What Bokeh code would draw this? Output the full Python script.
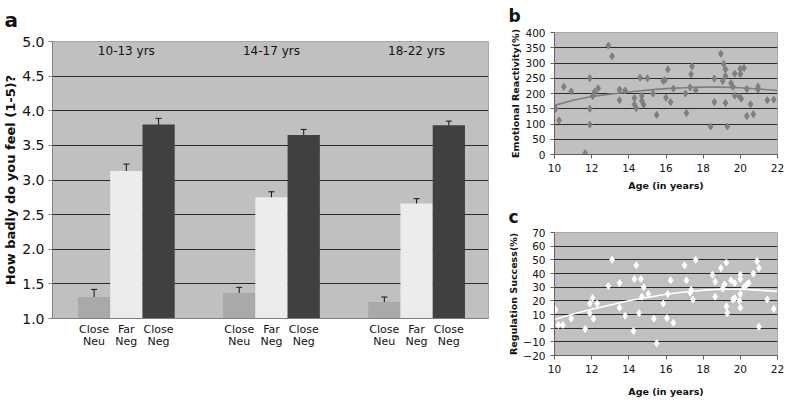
from bokeh.plotting import figure
from bokeh.models import (ColumnDataSource, Range1d, FixedTicker, PrintfTickFormatter,
                          Whisker, TeeHead, Title, LinearAxis)
from bokeh.layouts import row, column
from bokeh.core.properties import value
from bokeh.embed import file_html
from bokeh.resources import INLINE

# ---------------- data ----------------
groups = ["10-13 yrs", "14-17 yrs", "18-22 yrs"]
conditions = ["Close Neu", "Far Neg", "Close Neg"]
cond_line1 = ["Close", "Far", "Close"]
cond_line2 = ["Neu", "Neg", "Neg"]
cond_colors = ["#a9a9a9", "#ececec", "#404040"]
means = [[1.31, 3.13, 3.80],
         [1.37, 2.75, 3.65],
         [1.24, 2.66, 3.79]]
err_lo = [[1.23, 3.04, 3.71],
          [1.29, 2.66, 3.57],
          [1.18, 2.61, 3.73]]
err_hi = [[1.42, 3.23, 3.89],
          [1.45, 2.83, 3.73],
          [1.31, 2.73, 3.85]]
y_ticks_a = [1.0, 1.5, 2.0, 2.5, 3.0, 3.5, 4.0, 4.5, 5.0]

ages_b = [10.07, 10.25, 10.5, 10.9, 11.65, 11.9, 11.9, 11.9, 12.05, 12.15, 12.35,
          12.9, 13.1, 13.5, 13.5, 13.8, 14.3, 14.3, 14.4, 14.6, 14.7, 14.7, 14.8,
          15.0, 15.3, 15.5, 15.85, 15.95, 16.0, 16.1, 16.25, 16.4, 17.05, 17.1,
          17.3, 17.35, 17.4, 17.6, 18.4, 18.6, 18.6, 18.95, 19.05, 19.1, 19.2,
          19.2, 19.2, 19.3, 19.5, 19.6, 19.7, 19.7, 19.95, 20.0, 20.0, 20.05,
          20.2, 20.35, 20.35, 20.55, 20.7, 20.95, 20.95, 21.45, 21.8]
vals_b = [150, 112, 222, 207, 4, 250, 150, 98, 191, 205, 217,
          357, 322, 213, 178, 210, 164, 185, 152, 252, 192, 176, 163,
          250, 200, 130, 241, 244, 186, 279, 172, 216, 200, 136,
          220, 263, 289, 211, 92, 249, 172, 330, 241, 297, 279,
          257, 169, 92, 234, 222, 265, 193, 190, 281, 264, 183,
          284, 215, 126, 165, 132, 223, 213, 178, 180]
trend_age = [10, 11, 12, 13, 14, 15, 16, 17, 18, 19, 20, 21, 22]
trend_b = [161, 178, 190, 198, 205, 211, 216, 219, 221, 221, 219, 215, 210]

ages_c = [10.06, 10.2, 10.45, 10.9, 11.65, 11.9, 11.9, 12.05, 12.1, 12.3, 12.9,
          13.1, 13.5, 13.5, 13.8, 14.25, 14.3, 14.4, 14.55, 14.65, 14.7, 14.8,
          15.05, 15.35, 15.5, 15.85, 16.05, 16.1, 16.25, 16.4, 17.0, 17.1, 17.3,
          17.35, 17.45, 17.6, 18.5, 18.65, 18.65, 18.95, 19.05, 19.15, 19.25,
          19.25, 19.3, 19.5, 19.6, 19.7, 19.7, 19.95, 20.0, 20.0, 20.0, 20.0,
          20.2, 20.35, 20.45, 20.7, 20.9, 21.0, 21.0, 21.45, 21.8]
vals_c = [13.5, 2.4, 2.4, 7, -0.7, 18, 11, 22, 7, 18, 31,
          50, 33, 15, 9, -2, 36, 46, 11, 36, 23, 30,
          25, 7, -11, 18, 7.5, 25, 35, 4, 46, 35, 26,
          28, 21, 50, 39, 23, 34, 44, 29, 32, 48,
          16, 11, 35, 21, 22, 33, 20, 36, 39, 15, 25,
          30, 32, 33, 40, 49, 44, 1, 21, 14]
trend_c = [6.3, 10.3, 13.8, 17.0, 20.0, 22.5, 24.8, 26.5, 27.8, 28.5, 28.5, 27.8, 26.9]

FONT = "DejaVu Sans"
BG = "#c0c0c0"
GRID = "#2a2a2a"
AXC = "#808080"
TXT = "#111111"


def letter_title(text, size, offset, standoff):
    return Title(text=text, align="left", offset=offset, standoff=standoff,
                 vertical_align="top",
                 text_font=FONT, text_font_size=size, text_font_style="bold",
                 text_color=TXT)


# ---------------- panel a ----------------
xs, tops, los, his, cols, l1, l2 = [], [], [], [], [], [], []
for g in range(3):
    for b in range(3):
        xs.append(g * 4.5 + b)
        tops.append(means[g][b])
        los.append(err_lo[g][b])
        his.append(err_hi[g][b])
        cols.append(cond_colors[b])
        l1.append(cond_line1[b])
        l2.append(cond_line2[b])
src_a = ColumnDataSource(dict(x=xs, top=tops, lo=los, hi=his, color=cols))

pa = figure(width=495, height=399, output_backend="svg", toolbar_location=None,
            x_range=Range1d(-1.29, 12.23), y_range=Range1d(1.0, 5.0),
            min_border_left=51, min_border_right=7, min_border_top=40,
            min_border_bottom=81, background_fill_color=BG,
            outline_line_color="#a8a8a8",
            title=letter_title("a", "20px", -48, 15))
pa.vbar(x="x", top="top", bottom=1.0, width=1.0, color="color", line_color=None,
        source=src_a)
pa.add_layout(Whisker(source=src_a, base="x", upper="hi", lower="lo",
                      line_color=TXT, line_width=1,
                      upper_head=TeeHead(size=6, line_color=TXT),
                      lower_head=TeeHead(size=6, line_color=TXT)))
pa.text(x=[g * 4.5 + 1 for g in range(3)], y=[4.86] * 3, text=groups,
        text_align="center", text_baseline="middle", text_font=value(FONT),
        text_font_size="12px", text_color=TXT)

pa.xgrid.visible = False
pa.ygrid.ticker = FixedTicker(ticks=y_ticks_a)
pa.ygrid.grid_line_color = GRID
pa.ygrid.grid_line_width = 1

ax2 = LinearAxis()
pa.add_layout(ax2, "below")
for ax, labels, so in ((pa.xaxis[0], l1, 4), (ax2, l2, -4)):
    ax.ticker = FixedTicker(ticks=xs)
    ax.major_label_overrides = {float(x): l for x, l in zip(xs, labels)}
    ax.major_tick_line_color = None
    ax.minor_tick_line_color = None
    ax.major_tick_out = 0
    ax.major_label_text_font = FONT
    ax.major_label_text_font_size = "11px"
    ax.major_label_text_color = TXT
    ax.major_label_standoff = so
pa.xaxis[0].axis_line_color = AXC
ax2.axis_line_color = None

pa.yaxis.ticker = FixedTicker(ticks=y_ticks_a)
pa.yaxis.formatter = PrintfTickFormatter(format="%.1f")
pa.yaxis.axis_line_color = AXC
pa.yaxis.major_tick_line_color = AXC
pa.yaxis.major_tick_in = 0
pa.yaxis.major_tick_out = 4
pa.yaxis.minor_tick_line_color = None
pa.yaxis.major_label_standoff = 4
pa.yaxis.major_label_text_font = FONT
pa.yaxis.major_label_text_font_size = "14px"
pa.yaxis.major_label_text_color = TXT
pa.yaxis.axis_label = "How badly do you feel (1-5)?"
pa.yaxis.axis_label_text_font = FONT
pa.yaxis.axis_label_text_font_size = "13px"
pa.yaxis.axis_label_text_font_style = "bold"
pa.yaxis.axis_label_text_color = TXT
pa.yaxis.axis_label_standoff = 1


# ---------------- panels b, c ----------------
def scatter_panel(h, top, bottom, yr, yticks, ylabel, ages, vals, tr, color,
                  line_color, letter, t_standoff, xl_standoff):
    p = figure(width=289, height=h, output_backend="svg", toolbar_location=None,
               x_range=Range1d(10, 22), y_range=Range1d(*yr),
               min_border_left=59, min_border_right=7, min_border_top=top,
               min_border_bottom=bottom, background_fill_color=BG,
               outline_line_color="#a8a8a8",
               title=letter_title(letter, "17px", -46, t_standoff))
    p.line(trend_age, tr, line_color=line_color, line_width=1.6)
    p.scatter(ages, vals, marker="diamond", size=7, fill_color=color,
              line_color=color)
    p.xgrid.visible = False
    p.ygrid.ticker = FixedTicker(ticks=yticks)
    p.ygrid.grid_line_color = GRID
    p.xaxis.ticker = FixedTicker(ticks=[10, 12, 14, 16, 18, 20, 22])
    p.yaxis.ticker = FixedTicker(ticks=yticks)
    for ax in (p.xaxis, p.yaxis):
        ax.axis_line_color = "#606060"
        ax.major_tick_line_color = "#606060"
        ax.major_tick_in = 0
        ax.major_tick_out = 4
        ax.minor_tick_line_color = None
        ax.major_label_text_font = FONT
        ax.major_label_text_font_size = "10.5px"
        ax.major_label_text_color = TXT
        ax.axis_label_text_font = FONT
        ax.axis_label_text_font_size = "9.5px"
        ax.axis_label_text_font_style = "bold"
        ax.axis_label_text_color = TXT
    p.xaxis.axis_label = "Age (in years)"
    p.xaxis.axis_label_standoff = xl_standoff
    p.yaxis.axis_label = ylabel
    p.yaxis.axis_label_standoff = 1
    return p


pb = scatter_panel(201, 31, 47, (0, 400), list(range(0, 401, 50)),
                   "Emotional Reactivity(%)", ages_b, vals_b, trend_b,
                   "#7f7f7f", "#7f7f7f", "b", 10, 5)
pc = scatter_panel(198, 31, 43, (-20, 70), list(range(-20, 71, 10)),
                   "Regulation Success(%)", ages_c, vals_c, trend_c,
                   "#ffffff", "#ffffff", "c", 7, 10)

layout = row(pa, column(pb, pc))
open("out.html", "w").write(file_html(layout, INLINE))
